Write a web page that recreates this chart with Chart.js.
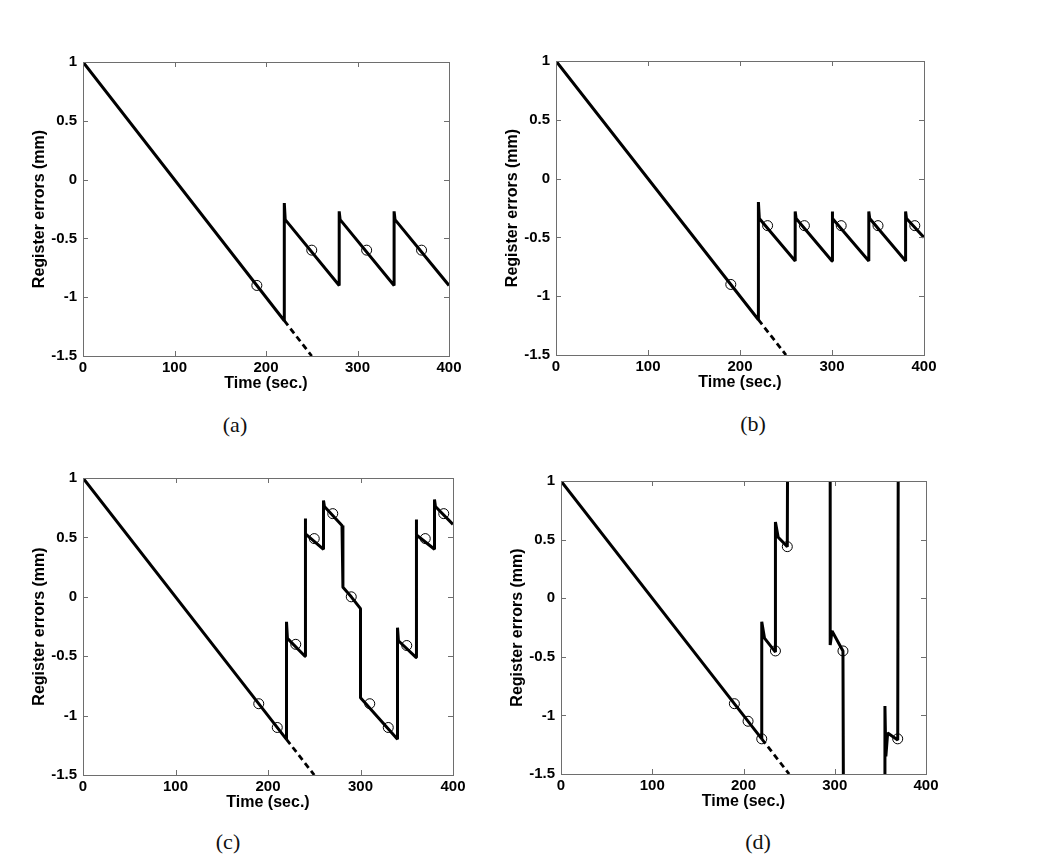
<!DOCTYPE html>
<html lang="en">
<head>
  <meta charset="UTF-8">
  <title>Register errors</title>
  <script src="https://cdn.jsdelivr.net/npm/chart.js"></script>
  <style>
    body { margin: 0; background: #fff; width: 1050px; height: 857px; position: relative; overflow: hidden; }
    canvas { position: absolute; }
    .cap { position: absolute; font-family: "Liberation Serif", "DejaVu Serif", serif; font-size: 22px; color: #111; transform: translate(-50%, -50%); }
  </style>
</head>
<body>
  <canvas id="chartA"></canvas>
  <canvas id="chartB"></canvas>
  <canvas id="chartC"></canvas>
  <canvas id="chartD"></canvas>
  <div class="cap" style="left:235px; top:425px">(a)</div>
  <div class="cap" style="left:753px; top:424px">(b)</div>
  <div class="cap" style="left:228px; top:842px">(c)</div>
  <div class="cap" style="left:758px; top:842px">(d)</div>
  <script>
    // tick values (same for all four panels)
    const xTicks = [0, 100, 200, 300, 400];
    const yTicks = [-1.5, -1, -0.5, 0, 0.5, 1];

    // open-loop drift, dashed continuation
    const driftT = [220, 250];
    const driftErr = [-1.2, -1.5];

    // (a)
    const aTime = [0, 220, 220, 221, 280, 280, 281, 340, 340, 341, 400];
    const aErr  = [1, -1.2, -0.2, -0.34, -0.9, -0.27, -0.34, -0.9, -0.27, -0.34, -0.9];
    const aMarkT = [190, 250, 310, 370];
    const aMarkErr = [-0.9, -0.6, -0.6, -0.6];

    // (b)
    const bTime = [0, 220, 220, 221, 260, 260, 261, 300, 300, 301, 340, 340, 341, 380, 380, 381, 400];
    const bErr  = [1, -1.2, -0.2, -0.34, -0.7, -0.28, -0.34, -0.7, -0.28, -0.34, -0.7, -0.28, -0.34, -0.7, -0.28, -0.34, -0.5];
    const bMarkT = [190, 230, 270, 310, 350, 390];
    const bMarkErr = [-0.9, -0.4, -0.4, -0.4, -0.4, -0.4];

    // (c)
    const cTime = [0, 220, 220, 221, 240, 240, 241, 260, 260, 261, 280, 281, 290, 300, 300, 340, 340, 341, 360, 360, 361, 380, 380, 381, 400];
    const cErr  = [1, -1.2, -0.21, -0.35, -0.5, 0.66, 0.53, 0.4, 0.81, 0.76, 0.6, 0.08, 0.0, -0.1, -0.85, -1.2, -0.26, -0.37, -0.51, 0.65, 0.52, 0.4, 0.82, 0.76, 0.61];
    const cMarkT = [190, 210, 230, 250, 270, 290, 310, 330, 350, 370, 390];
    const cMarkErr = [-0.9, -1.1, -0.4, 0.49, 0.7, 0.0, -0.9, -1.1, -0.41, 0.49, 0.7];

    // (d) – goes off scale between 249-295 and 310-355
    const dTime = [0, 220, 220, 223, 235, 235, 238, 248, 249, 295, 295, 297, 309, 310, 355, 355, 356, 358, 369, 370];
    const dErr  = [1, -1.2, -0.2, -0.34, -0.46, 0.65, 0.52, 0.44, 3, 3, -0.4, -0.28, -0.45, -3, -3, -0.92, -1.35, -1.15, -1.21, 3];
    const dMarkT = [190, 205, 220, 235, 248, 309, 369];
    const dMarkErr = [-0.9, -1.05, -1.2, -0.45, 0.44, -0.45, -1.2];

    const toPts = (xs, ys) => xs.map((x, i) => ({ x: x, y: ys[i] }));

    // box frame with inward ticks on all four sides
    const frame = {
      id: 'frame',
      afterDraw(chart) {
        const { ctx, chartArea: a, scales } = chart;
        ctx.save();
        ctx.strokeStyle = '#6e6e6e';
        ctx.lineWidth = 1;
        ctx.strokeRect(a.left + 0.5, a.top + 0.5, a.right - a.left, a.bottom - a.top);
        ctx.beginPath();
        scales.x.ticks.forEach(t => {
          const px = Math.round(scales.x.getPixelForValue(t.value)) + 0.5;
          ctx.moveTo(px, a.bottom); ctx.lineTo(px, a.bottom - 5);
          ctx.moveTo(px, a.top); ctx.lineTo(px, a.top + 5);
        });
        scales.y.ticks.forEach(t => {
          const py = Math.round(scales.y.getPixelForValue(t.value)) + 0.5;
          ctx.moveTo(a.left, py); ctx.lineTo(a.left + 5, py);
          ctx.moveTo(a.right, py); ctx.lineTo(a.right - 5, py);
        });
        ctx.stroke();
        ctx.restore();
      }
    };

    const tickFont = { family: '"Liberation Sans", Arial, sans-serif', size: 15, weight: 'bold' };
    const titleFont = { family: '"Liberation Sans", Arial, sans-serif', size: 16, weight: 'bold' };

    function makePanel(id, area, time, err, markT, markErr) {
      const cv = document.getElementById(id);
      cv.width = area.R - area.L + 81;
      cv.height = area.B - area.T + 62;
      cv.style.left = (area.L - 56) + 'px';
      cv.style.top = (area.T - 22) + 'px';
      return new Chart(cv.getContext('2d'), {
        type: 'line',
        data: {
          datasets: [
            {
              data: toPts(driftT, driftErr),
              borderColor: '#000', borderWidth: 2.8, borderDash: [6, 4],
              pointRadius: 0, tension: 0
            },
            {
              data: toPts(time, err),
              borderColor: '#000', borderWidth: 3, borderJoinStyle: 'bevel',
              pointRadius: 0, tension: 0
            },
            {
              data: toPts(markT, markErr),
              showLine: false, pointStyle: 'circle', pointRadius: 5,
              pointBorderColor: '#000', pointBorderWidth: 1,
              pointBackgroundColor: 'rgba(0,0,0,0)'
            }
          ]
        },
        options: {
          responsive: false,
          animation: false,
          devicePixelRatio: 1,
          layout: { padding: { left: 0, top: 22, right: 25, bottom: 0 } },
          plugins: { legend: { display: false }, tooltip: { enabled: false } },
          scales: {
            x: {
              type: 'linear', min: 0, max: 400,
              grid: { display: false, drawTicks: false },
              border: { display: false },
              afterBuildTicks: s => { s.ticks = xTicks.map(v => ({ value: v })); },
              afterFit: s => { s.height = 40; },
              ticks: { color: '#000', font: tickFont, padding: 3, maxRotation: 0, callback: v => String(v) },
              title: { display: true, text: 'Time (sec.)', color: '#000', font: titleFont, padding: { top: 0, bottom: 3 } }
            },
            y: {
              type: 'linear', min: -1.5, max: 1,
              grid: { display: false, drawTicks: false },
              border: { display: false },
              afterBuildTicks: s => { s.ticks = yTicks.map(v => ({ value: v })); },
              afterFit: s => { s.width = 56; },
              ticks: { color: '#000', font: tickFont, padding: 6, callback: v => String(v) },
              title: { display: true, text: 'Register errors (mm)', color: '#000', font: titleFont, padding: { top: 3, bottom: 0 } }
            }
          }
        },
        plugins: [frame]
      });
    }

    makePanel('chartA', { L: 83, R: 449, T: 62, B: 356 }, aTime, aErr, aMarkT, aMarkErr);
    makePanel('chartB', { L: 556, R: 924, T: 61, B: 355 }, bTime, bErr, bMarkT, bMarkErr);
    makePanel('chartC', { L: 83, R: 453, T: 478, B: 775 }, cTime, cErr, cMarkT, cMarkErr);
    makePanel('chartD', { L: 561, R: 926, T: 481, B: 774 }, dTime, dErr, dMarkT, dMarkErr);
  </script>
</body>
</html>
